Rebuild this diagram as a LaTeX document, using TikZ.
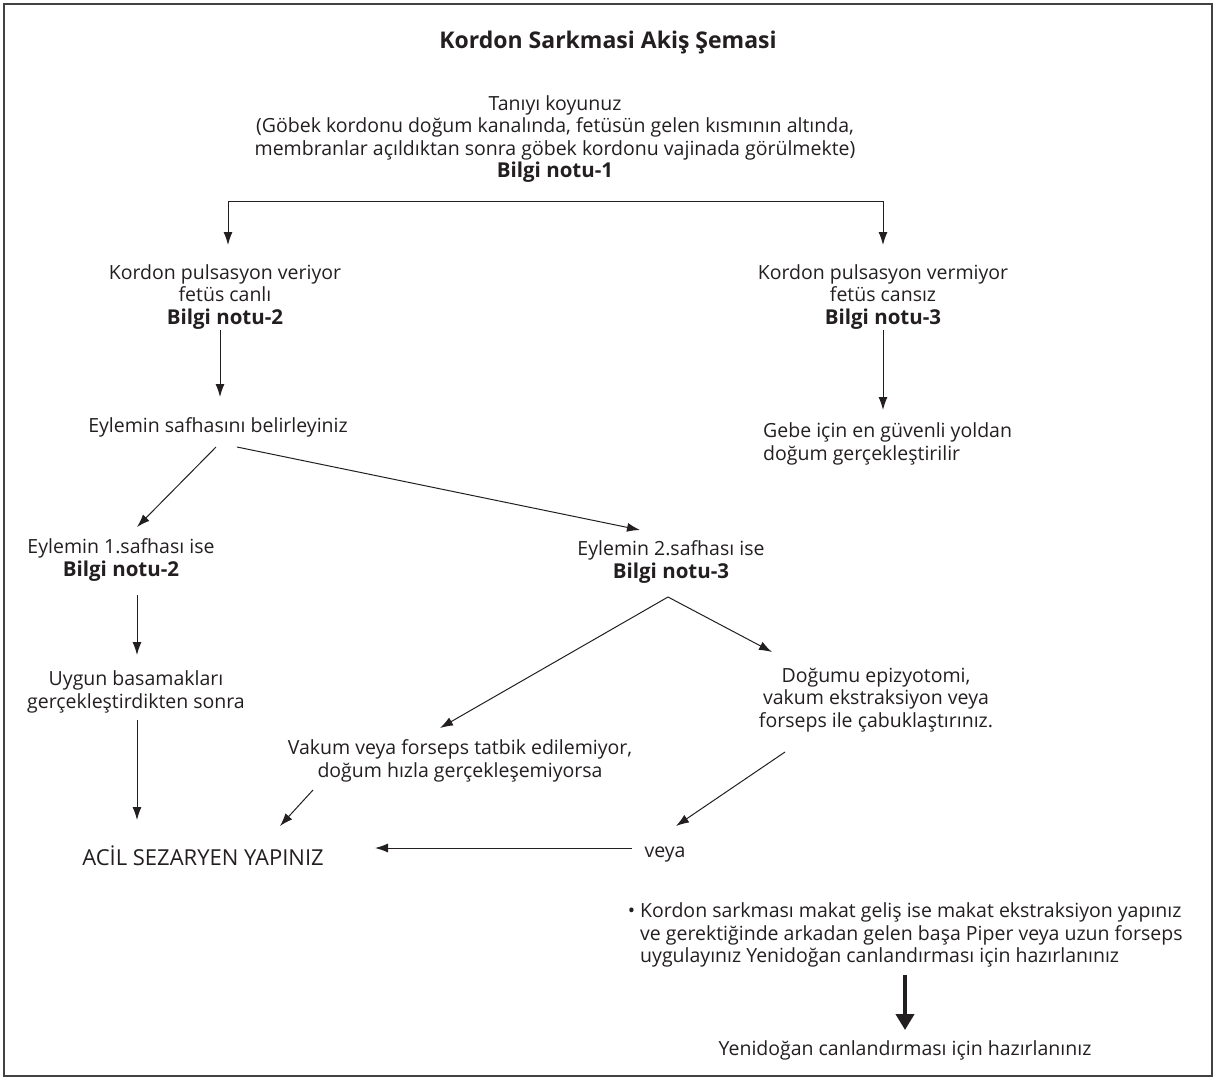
\documentclass[tikz,border=0pt]{standalone}
\usepackage{fontspec}
\setmainfont{Open Sans}
\usetikzlibrary{arrows.meta,calc}
\definecolor{ink}{HTML}{231F20}
\newcommand\bn[1]{{\fontsize{20.5}{22.5}\selectfont\bfseries #1}}
\begin{document}
\begin{tikzpicture}[x=1pt,y=-1pt,
  txt/.style={inner sep=0pt,align=center,text=ink,font=\fontsize{19.5}{22.5}\selectfont},
  arr/.style={draw=ink,line width=1pt,-{Latex[length=13pt,width=9pt]}},
  bigarr/.style={draw=ink,line width=4pt,-{Triangle[length=16pt,width=18pt]}},
  frame/.style={draw=ink!85,line width=2pt}]
\useasboundingbox (0,0) rectangle (1217,1079);
\draw[frame] (4,4) rectangle (1212,1076);

\node[txt,font=\fontsize{23}{26}\selectfont\bfseries] (title) at (608,43) {Kordon Sarkmasi Akiş Şemasi};
\node[txt] (top) at (555,139) {Tanıyı koyunuz\\(Göbek kordonu doğum kanalında, fetüsün gelen kısmının altında,\\membranlar açıldıktan sonra göbek kordonu vajinada görülmekte)\\\bn{Bilgi notu-1}};
\node[txt] (pl) at (225,297) {Kordon pulsasyon veriyor\\fetüs canlı\\\bn{Bilgi notu-2}};
\node[txt] (pr) at (883,297) {Kordon pulsasyon vermiyor\\fetüs cansız\\\bn{Bilgi notu-3}};
\node[txt] (eyl) at (218,427) {Eylemin safhasını belirleyiniz};
\node[txt,align=left,anchor=west] (gebe) at (763,444) {Gebe için en güvenli yoldan\\doğum gerçekleştirilir};
\node[txt] (e1) at (121,560) {Eylemin 1.safhası ise\\\bn{Bilgi notu-2}};
\node[txt] (e2) at (671,562) {Eylemin 2.safhası ise\\\bn{Bilgi notu-3}};
\node[txt] (uyg) at (136,692) {Uygun basamakları\\gerçekleştirdikten sonra};
\node[txt] (dog) at (876,700) {Doğumu epizyotomi,\\vakum ekstraksiyon veya\\forseps ile çabuklaştırınız.};
\node[txt] (vak) at (460,761) {Vakum veya forseps tatbik edilemiyor,\\doğum hızla gerçekleşemiyorsa};
\node[txt,font=\fontsize{22}{26}\selectfont] (acil) at (203,856) {ACİL SEZARYEN YAPINIZ};
\node[txt] (veya) at (665,855) {veya};
\node[txt,align=left,anchor=west] (bul) at (640,935) {\llap{\textbullet\hspace{5pt}}Kordon sarkması makat geliş ise makat ekstraksiyon yapınız\\ve gerektiğinde arkadan gelen başa Piper veya uzun forseps\\uygulayınız Yenidoğan canlandırması için hazırlanınız};
\node[txt] (yeni) at (905,1050) {Yenidoğan canlandırması için hazırlanınız};

% branch from diagnosis
\coordinate (hl) at ($(pl)+(3,-96)$);
\coordinate (hr) at ($(pr)+(0,-96)$);
\draw[draw=ink,line width=1pt] (hl) -- (hr);
\draw[arr] (hl) -- ($(pl)+(3,-52)$);
\draw[arr] (hr) -- ($(pr)+(0,-52)$);

\draw[arr] ($(pl)+(-5,33)$) -- ($(eyl)+(2,-30)$);
\draw[arr] ($(pr)+(0,33)$) -- ($(gebe.west)+(120,-34)$);
\draw[arr] ($(eyl)+(-2,20)$) -- ($(e1)+(16,-33)$);
\draw[arr] ($(eyl)+(19,20)$) -- ($(e2)+(-31,-32)$);
\draw[arr] ($(e1)+(16,35)$) -- ($(uyg)+(1,-37)$);
\coordinate (apex) at ($(e2)+(-3,35)$);
\draw[arr] (apex) -- ($(vak)+(-20,-33)$);
\draw[arr] (apex) -- ($(dog)+(-104,-48)$);
\draw[arr] ($(uyg)+(1,28)$) -- ($(acil)+(-66,-36)$);
\draw[arr] ($(vak)+(-147,29)$) -- ($(acil)+(77,-30)$);
\draw[arr] ($(dog)+(-91,52)$) -- ($(veya)+(11,-29)$);
\draw[arr] ($(veya)+(-33,-7)$) -- ($(acil)+(172,-8)$);
\draw[bigarr] ($(bul.west)+(265,40)$) -- ($(yeni)+(0,-20)$);
\end{tikzpicture}
\end{document}
